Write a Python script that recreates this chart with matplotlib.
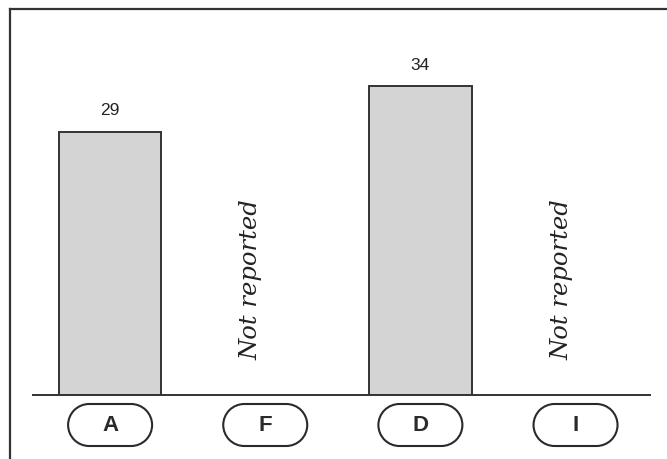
import numpy as np
import matplotlib.pyplot as plt
from matplotlib.patches import PathPatch
from matplotlib.path import Path
from matplotlib.lines import Line2D
from matplotlib.transforms import IdentityTransform

categories = ['A', 'F', 'D', 'I']
values = [29, None, 34, None]
missing_text = 'Not reported'


def stadium(cx, cy, w, h):
    r = h / 2
    left = Path.arc(90, 270)
    right = Path.arc(-90, 90)
    lv = left.vertices * r + [cx - w / 2 + r, cy]
    rv = right.vertices * r + [cx + w / 2 - r, cy]
    verts = np.vstack([lv, rv, lv[:1]])
    codes = list(left.codes) + [Path.LINETO] + list(right.codes[1:]) + [Path.CLOSEPOLY]
    return Path(verts, codes)


fig = plt.figure(figsize=(6.67, 4.60), dpi=100)
ax = fig.add_axes([33 / 667, 1 - 396 / 460, (650 - 33) / 667, (396 - 10) / 460])

xs = list(range(len(categories)))
for x, v in zip(xs, values):
    if v is None:
        ax.text(x - 0.09, 4.0, missing_text, rotation=90, ha='center', va='bottom',
                family='DejaVu Serif', style='italic', fontsize=17.5, color='#222222')
    else:
        ax.bar(x, v, width=0.66, color='#d4d4d4', edgecolor='#333333', linewidth=1.4)
        ax.text(x, v + 1.6, str(v), ha='center', va='bottom', fontsize=12.5,
                family='Liberation Sans', color='#222222')

ax.set_xlim(-0.497, 3.48)
ax.set_ylim(0, 42.5)
ax.set_xticks([])
ax.set_yticks([])
for s in ['top', 'right', 'left']:
    ax.spines[s].set_visible(False)
ax.spines['bottom'].set_linewidth(1.4)
ax.spines['bottom'].set_color('#333333')

# pill shaped category labels below the axis
fig.canvas.draw()
for x, c in zip(xs, categories):
    px, _ = ax.transData.transform((x, 0))
    w, h = 84, 42
    cy = 460 - 405 - h / 2
    pill = PathPatch(stadium(px, cy, w, h), transform=IdentityTransform(),
                     facecolor='white', edgecolor='#2a2a2a', linewidth=1.5)
    fig.patches.append(pill)
    fig.text(px / 667, cy / 460, c, ha='center', va='center',
             fontsize=16, fontweight='bold', family='Liberation Sans', color='#2a2a2a')

# frame lines at left and top
fig.add_artist(Line2D([10 / 667, 10 / 667], [0, 1 - 10 / 460], transform=fig.transFigure,
                      color='#333333', linewidth=1.6))
fig.add_artist(Line2D([10 / 667, 1], [1 - 10 / 460, 1 - 10 / 460], transform=fig.transFigure,
                      color='#333333', linewidth=1.6))

fig.savefig('out.png', dpi=100)
